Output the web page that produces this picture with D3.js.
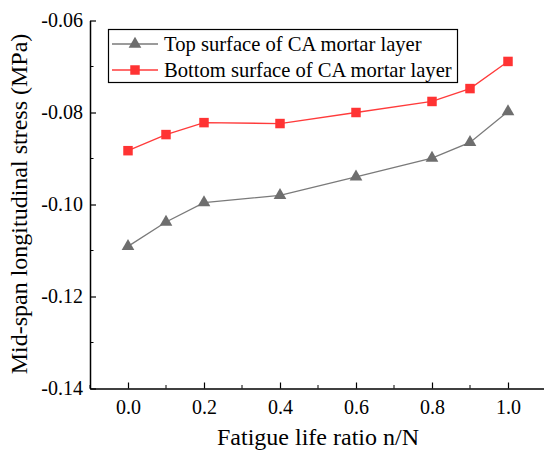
<!DOCTYPE html>
<meta charset="utf-8">
<style>
body { margin: 0; background: #fff; }
text { font-family: "Liberation Serif", "Times New Roman", serif; fill: #000; }
</style>
<body>
<script src="https://d3js.org/d3.v7.min.js"></script>
<script>
var ratio = [0.0, 0.1, 0.2, 0.4, 0.6, 0.8, 0.9, 1.0];
var topSurface = [-0.1091, -0.1038, -0.0996, -0.0980, -0.0940, -0.0899, -0.0865, -0.0798];
var bottomSurface = [-0.0883, -0.0848, -0.0822, -0.0824, -0.0800, -0.0776, -0.0748, -0.0689];
var xTicks = [0.0, 0.2, 0.4, 0.6, 0.8, 1.0];
var yTicks = [-0.06, -0.08, -0.10, -0.12, -0.14];
var seriesNames = ["Top surface of CA mortar layer", "Bottom surface of CA mortar layer"];

var width = 544, height = 453;
var x = d3.scaleLinear().domain([-0.1, 1.1]).range([90, 546]);
var y = d3.scaleLinear().domain([-0.14, -0.06]).range([388.5, 20.5]);

var svg = d3.select("body").append("svg")
    .attr("width", width)
    .attr("height", height);

// minor ticks
var xMinor = [-0.1, 0.1, 0.3, 0.5, 0.7, 0.9, 1.1];
var yMinor = [-0.07, -0.09, -0.11, -0.13];

var xAxis = svg.append("g")
    .attr("transform", "translate(0," + y(-0.14) + ")")
    .call(d3.axisBottom(x).tickValues(xTicks).tickSizeInner(-6).tickSizeOuter(0)
      .tickFormat(d3.format(".1f")));
xAxis.selectAll("text").attr("y", 11).attr("dy", "0.71em").style("font-size", "20px");
xAxis.append("g").selectAll("line").data(xMinor).enter().append("line")
    .attr("x1", function(d) { return x(d); }).attr("x2", function(d) { return x(d); })
    .attr("y1", 0).attr("y2", -3.5).attr("stroke", "#000");

var yAxis = svg.append("g")
    .attr("transform", "translate(" + x(-0.1) + ",0)")
    .call(d3.axisLeft(y).tickValues(yTicks).tickSizeInner(-6).tickSizeOuter(0)
      .tickFormat(function(d) { return d.toFixed(2); }));
yAxis.selectAll("text").attr("x", -7).style("font-size", "20px");
yAxis.append("g").selectAll("line").data(yMinor).enter().append("line")
    .attr("y1", function(d) { return y(d); }).attr("y2", function(d) { return y(d); })
    .attr("x1", 0).attr("x2", 3.5).attr("stroke", "#000");
svg.selectAll(".domain").attr("stroke", "#000").attr("stroke-width", 1.5);
svg.selectAll(".tick line").attr("stroke", "#000").attr("stroke-width", 1.2);

// axis titles
svg.append("text")
    .attr("x", 318).attr("y", 445)
    .attr("text-anchor", "middle")
    .style("font-size", "24px")
    .text("Fatigue life ratio n/N");
svg.append("text")
    .attr("transform", "translate(27," + 204 + ") rotate(-90)")
    .attr("text-anchor", "middle")
    .style("font-size", "24px")
    .text("Mid-span longitudinal stress (MPa)");

var line = d3.line()
    .x(function(d) { return x(d[0]); })
    .y(function(d) { return y(d[1]); });

var topData = ratio.map(function(r, i) { return [r, topSurface[i]]; });
var botData = ratio.map(function(r, i) { return [r, bottomSurface[i]]; });

var triangle = d3.symbol().type(d3.symbolTriangle).size(70);
var square = d3.symbol().type(d3.symbolSquare).size(90);

svg.append("path").datum(topData).attr("d", line)
    .attr("fill", "none").attr("stroke", "#7a7a7a").attr("stroke-width", 1.3);
svg.selectAll(".tri").data(topData).enter().append("path")
    .attr("class", "tri")
    .attr("d", triangle)
    .attr("transform", function(d) { return "translate(" + x(d[0]) + "," + y(d[1]) + ")"; })
    .attr("fill", "#6e6e6e");

svg.append("path").datum(botData).attr("d", line)
    .attr("fill", "none").attr("stroke", "#ff3b3b").attr("stroke-width", 1.3);
svg.selectAll(".sq").data(botData).enter().append("path")
    .attr("class", "sq")
    .attr("d", square)
    .attr("transform", function(d) { return "translate(" + x(d[0]) + "," + y(d[1]) + ")"; })
    .attr("fill", "#ff3333");

// legend
var legend = svg.append("g");
legend.append("rect")
    .attr("x", 108.5).attr("y", 29.5).attr("width", 349).attr("height", 53)
    .attr("fill", "#fff").attr("stroke", "#000").attr("stroke-width", 1.2);
var legColors = ["#7a7a7a", "#ff3b3b"];
var legFill = ["#6e6e6e", "#ff3333"];
var legSym = [triangle, square];
seriesNames.forEach(function(name, i) {
  var cy = 44 + i * 26;
  legend.append("line").attr("x1", 112).attr("x2", 158).attr("y1", cy).attr("y2", cy)
      .attr("stroke", legColors[i]).attr("stroke-width", 1.3);
  legend.append("path").attr("d", legSym[i])
      .attr("transform", "translate(135," + cy + ")")
      .attr("fill", legFill[i]);
  legend.append("text").attr("x", 164).attr("y", cy).attr("dy", "0.35em")
      .style("font-size", "20.6px").text(name);
});
</script>
